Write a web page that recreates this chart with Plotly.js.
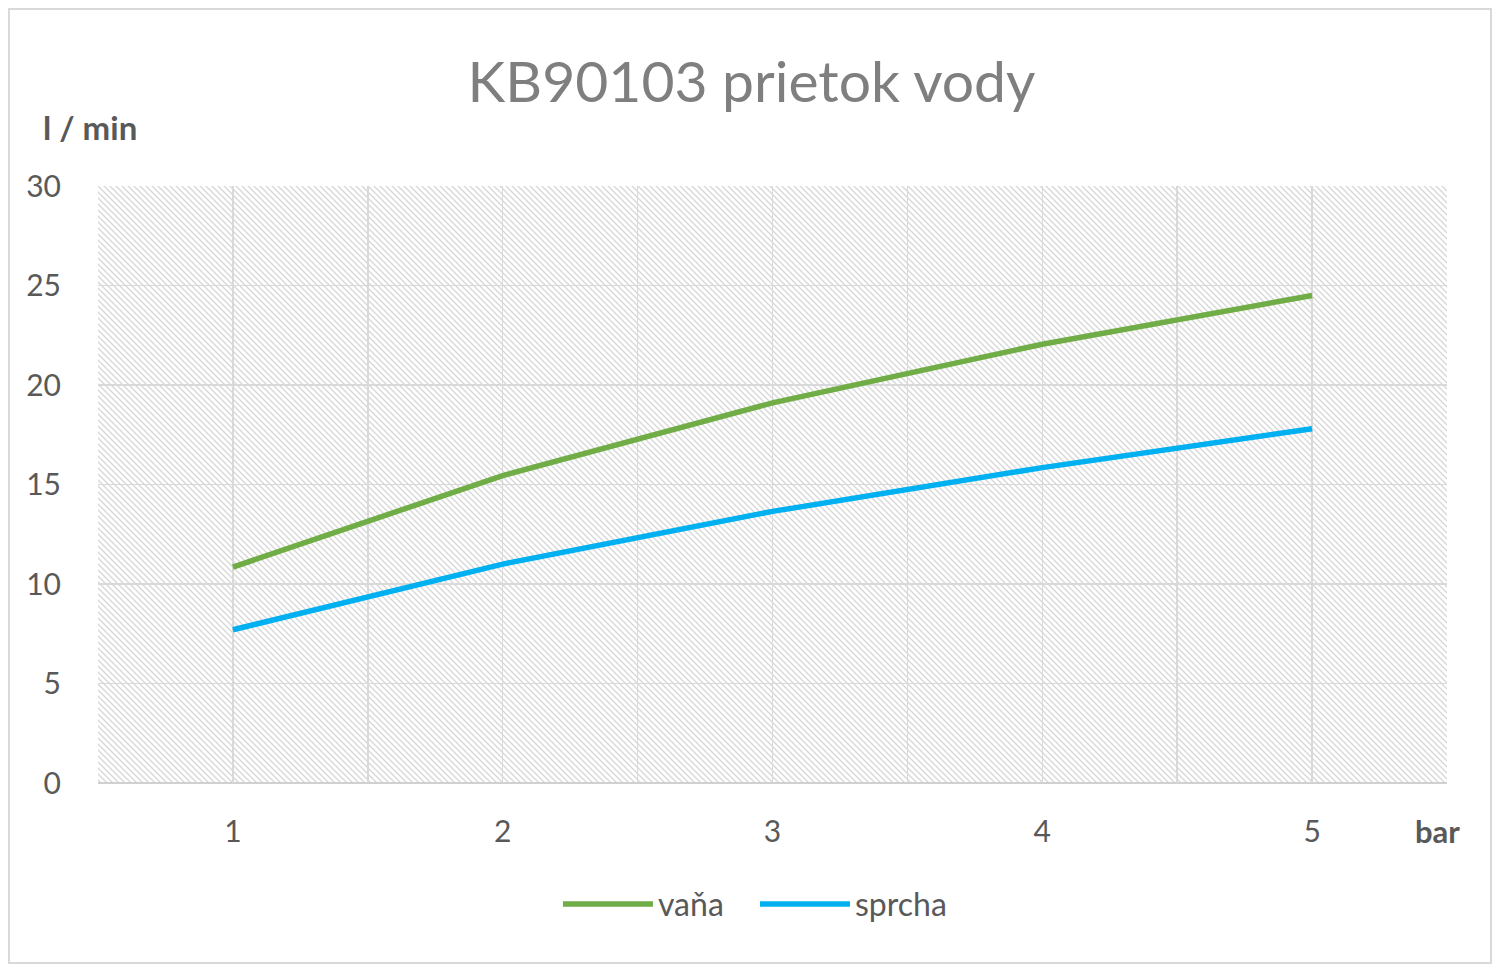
<!DOCTYPE html>
<html>
<head>
<meta charset="utf-8">
<script src="https://cdn.plot.ly/plotly-3.0.1.min.js"></script>
<style>html,body{margin:0;padding:0;background:#fff;}#chart{width:1500px;height:972px;}</style>
</head>
<body>
<div id="chart"></div>
<script>
const pressure = [1, 2, 3, 4, 5];
const vanaFlow = [10.85, 15.45, 19.1, 22.05, 24.5];
const sprchaFlow = [7.7, 11.0, 13.65, 15.85, 17.8];
const seriesNames = ['vaňa', 'sprcha'];
const xGridVals = [0.5, 1, 1.5, 2, 2.5, 3, 3.5, 4, 4.5, 5, 5.5];
const xGridText = ['', '1', '', '2', '', '3', '', '4', '', '5', ''];
const yTicks = [0, 5, 10, 15, 20, 25, 30];

const FONT = 'Lato, "Open Sans", sans-serif';
const textColor = '#595959';

const hatchSvg = '<svg xmlns="http://www.w3.org/2000/svg" width="1349" height="597">' +
  '<defs><pattern id="h" width="6" height="6" patternUnits="userSpaceOnUse">' +
  '<path d="M0,0L6,6M-1,5L1,7M5,-1L7,1" stroke="#d6d6d6" stroke-width="1.3"/></pattern></defs>' +
  '<rect width="1349" height="597" fill="#ffffff"/><rect width="1349" height="597" fill="url(#h)"/></svg>';
const hatchSrc = 'data:image/svg+xml;charset=utf-8,' + encodeURIComponent(hatchSvg);

const traces = [
  {x: pressure, y: vanaFlow, name: seriesNames[0], type: 'scatter', mode: 'lines',
   line: {color: '#70ad47', width: 5.5}},
  {x: pressure, y: sprchaFlow, name: seriesNames[1], type: 'scatter', mode: 'lines',
   line: {color: '#00b0f0', width: 5.5}}
];

const layout = {
  width: 1500, height: 972,
  margin: {l: 98, r: 53, t: 186, b: 189},
  paper_bgcolor: '#ffffff',
  plot_bgcolor: 'rgba(0,0,0,0)',
  font: {family: FONT, color: textColor, size: 28},
  title: {text: 'KB90103 prietok vody', x: 0.501, xref: 'container', y: 0.916, yref: 'container',
          yanchor: 'middle', font: {family: FONT, size: 57, color: '#7f7f7f'}},
  xaxis: {range: [0.5, 5.5], tickvals: xGridVals, ticktext: xGridText, showgrid: true,
          gridcolor: '#d9d9d9', gridwidth: 1.5, zeroline: false, showline: false,
          ticks: '', tickfont: {size: 30, color: textColor}, fixedrange: true, ticklabelstandoff: 28},
  yaxis: {range: [0, 30], tickvals: yTicks, showgrid: true, gridcolor: '#d9d9d9', gridwidth: 1.5,
          zeroline: false, showline: false, ticks: '', tickfont: {size: 30, color: textColor},
          ticklabelstandoff: 36},
  showlegend: true,
  legend: {orientation: 'h', x: 0.487, xanchor: 'center', y: -0.203, yanchor: 'middle',
           font: {size: 32, color: textColor}, itemwidth: 90, tracegroupgap: 0,
           entrywidth: 92, entrywidthmode: 'pixels'},
  images: [{source: hatchSrc, xref: 'paper', yref: 'paper', x: 0, y: 1, sizex: 1, sizey: 1,
            xanchor: 'left', yanchor: 'top', sizing: 'stretch', layer: 'below'}],
  shapes: [
    {type: 'rect', xref: 'paper', yref: 'paper', x0: -0.066, x1: 1.0326, y0: -0.3015, y1: 1.2965,
     line: {color: '#d9d9d9', width: 2}, fillcolor: 'rgba(0,0,0,0)', layer: 'below'},
    {type: 'line', xref: 'paper', yref: 'paper', x0: 0, x1: 1, y0: 0, y1: 0,
     line: {color: '#d0d0d0', width: 2}, layer: 'below'}
  ],
  annotations: [
    {text: '<b>l / min</b>', xref: 'paper', yref: 'paper', x: -0.042, y: 1.098, xanchor: 'left',
     yanchor: 'middle', showarrow: false, font: {size: 33, color: textColor}},
    {text: '<b>bar</b>', xref: 'paper', yref: 'paper', x: 0.9933, y: -0.08, xanchor: 'center',
     yanchor: 'middle', showarrow: false, font: {size: 31, color: textColor}}
  ]
};

Plotly.newPlot('chart', traces, layout, {displayModeBar: false, staticPlot: true});
</script>
</body>
</html>
